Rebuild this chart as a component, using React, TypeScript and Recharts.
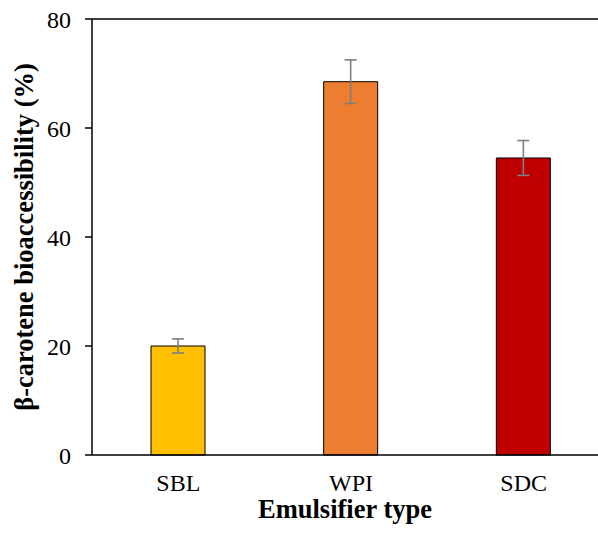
import { Bar, BarChart, Cell, ErrorBar, ReferenceLine, XAxis, YAxis } from "recharts"

const categories = ["SBL", "WPI", "SDC"]
const values = [20.0, 68.5, 54.5]
const errors = [1.3, 4.0, 3.2]
const colors = ["#FFC000", "#ED7D31", "#C00000"]
const yTicks = [0, 20, 40, 60, 80]

const data = categories.map((name, i) => ({ name, value: values[i], err: errors[i] }))

const font = "'Liberation Serif', 'Times New Roman', serif"

export default function App() {
  return (
    <div style={{ position: "absolute", left: 0, top: 0, width: 598, height: 535, overflow: "hidden", background: "#fff" }}>
      <BarChart width={620} height={535} data={data} margin={{ top: 19, right: 10, bottom: 0, left: 0 }}>
        <ReferenceLine y={80} stroke="#000" strokeWidth={1.5} />
        <XAxis
          dataKey="name"
          height={80}
          tickLine={false}
          axisLine={{ stroke: "#000", strokeWidth: 1.5 }}
          tickMargin={13}
          tick={{ fill: "#000", fontSize: 24, fontFamily: font }}
          label={{
            value: "Emulsifier type",
            position: "insideBottom",
            offset: 17,
            dx: -6,
            style: { fill: "#000", fontSize: 26.5, fontWeight: "bold", fontFamily: font },
          }}
        />
        <YAxis
          width={92}
          domain={[0, 80]}
          ticks={yTicks}
          interval={0}
          tickSize={7}
          tickMargin={14}
          axisLine={{ stroke: "#000", strokeWidth: 1.5 }}
          tickLine={{ stroke: "#000", strokeWidth: 1.5 }}
          tick={{ fill: "#000", fontSize: 24, fontFamily: font }}
          label={{
            value: "β-carotene bioaccessibility (%)",
            angle: -90,
            position: "center",
            dx: -22,
            style: { fill: "#000", fontSize: 26.5, fontWeight: "bold", fontFamily: font, textAnchor: "middle" },
          }}
        />
        <Bar dataKey="value" barSize={54} stroke="#000" strokeWidth={1} isAnimationActive={false}>
          {data.map((d, i) => (
            <Cell key={d.name} fill={colors[i]} />
          ))}
          <ErrorBar dataKey="err" width={6} stroke="#7f7f7f" strokeWidth={1.6} isAnimationActive={false} />
        </Bar>
      </BarChart>
    </div>
  )
}
